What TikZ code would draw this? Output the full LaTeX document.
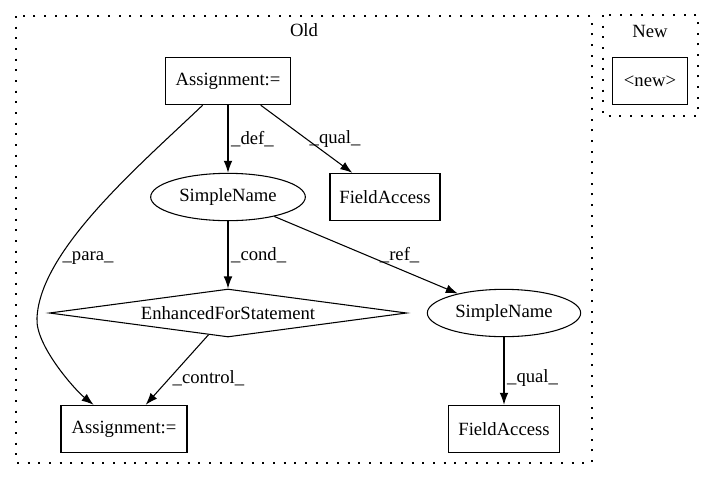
\documentclass[tikz,border=0pt]{standalone}
\usepackage{fontspec}
\setmainfont{Liberation Serif}
\usepackage{tikz}
\usetikzlibrary{arrows.meta}
\usetikzlibrary{shapes.geometric}

\begin{document}
\begin{tikzpicture}[scale=1,>={Latex[length=9pt,width=6.5pt]},x=0.75pt,y=-0.75pt,
    every node/.style={font=\fontsize{14}{16}\selectfont},
    box/.style={draw,line width=0.8pt,rectangle,minimum height=35.5pt,inner sep=0pt},
    oval/.style={draw,line width=0.8pt,ellipse,minimum height=35.5pt,inner sep=0pt},
    lbl/.style={inner sep=2pt},
    edge/.style={->,line width=0.8pt},
    cluster/.style={line width=0.8pt,dash pattern=on 1.5pt off 6.5pt}]
    \useasboundingbox (0,0) rectangle (715,480);
    \draw[cluster] (16,16) rectangle (592,463);
    \draw[cluster] (603,15) rectangle (698,116);
    \node (old) at (304,30) {Old};
    \node (new) at (650,31) {New};
    \node[box,minimum width=94pt] (asgtop) at (228,81) {Assignment:=};
    \node[oval,minimum width=116pt] (nametop) at (228,197) {SimpleName};
    \node[box,minimum width=82.5pt] (fieldtop) at (385,197) {FieldAccess};
    \node[draw,line width=0.8pt,diamond,aspect=7,minimum width=268pt,minimum height=36pt,inner sep=0pt] (forstmt) at (228,313) {EnhancedForStatement};
    \node[oval,minimum width=115pt] (namebot) at (504,313) {SimpleName};
    \node[box,minimum width=94.5pt] (asgbot) at (124,429) {Assignment:=};
    \node[box,minimum width=83pt] (fieldbot) at (504,429) {FieldAccess};
    \node[box,minimum width=56pt] (newnode) at (650,81) {<new>};
    \draw[edge] (asgtop) -- (nametop) node[lbl,right,midway] {\_def\_};
    \draw[edge] (asgtop) -- (fieldtop) node[lbl,right,midway] {\_qual\_};
    \draw[edge] (asgtop) .. controls (140,165) and (40,250) .. (37,318) node[lbl,right,pos=0.72] {\_para\_}
        .. controls (35,345) and (75,390) .. (asgbot);
    \draw[edge] (nametop) -- (forstmt) node[lbl,right,midway] {\_cond\_};
    \draw[edge] (nametop) -- (namebot) node[lbl,right,midway,xshift=8pt] {\_ref\_};
    \draw[edge] (forstmt) -- (asgbot) node[lbl,right,pos=0.62] {\_control\_};
    \draw[edge] (namebot) -- (fieldbot) node[lbl,right,pos=0.6] {\_qual\_};
\end{tikzpicture}
\end{document}
